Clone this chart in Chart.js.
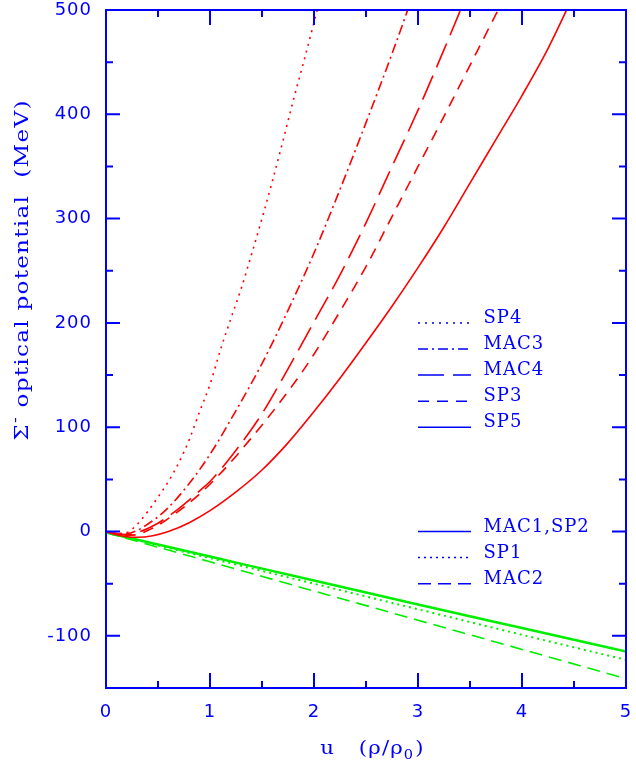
<!DOCTYPE html>
<html>
<head>
<meta charset="utf-8">
<script src="https://cdn.jsdelivr.net/npm/chart.js@4/dist/chart.umd.min.js"></script>
<style>
  html, body { margin: 0; padding: 0; background: #fff; }
</style>
</head>
<body>
<canvas id="chart" width="636" height="762"></canvas>
<script>
// Sigma- optical potential (MeV) vs u = rho/rho0
const sp4U = [0, 0.1, 0.2, 0.3, 0.4, 0.5, 0.6, 0.7, 0.8, 0.9, 1.0, 1.1, 1.2, 1.3, 1.4, 1.5, 1.6, 1.7, 1.8, 1.9, 2.0, 2.1];
const sp4V = [0, -2, -1, 7, 19, 33, 48, 66, 88, 115, 141, 174, 204, 233, 266, 300, 336, 374, 413, 450, 488, 526];

const mac3U = [0, 0.1, 0.2, 0.3, 0.4, 0.5, 0.6, 0.8, 1.0, 1.25, 1.5, 1.75, 2.0, 2.25, 2.5, 2.75, 3.0];
const mac3V = [0, -2, -2, 1, 7, 14, 23, 46, 74, 116, 161, 212, 267, 328, 392, 458, 528];

const mac4U = [0, 0.1, 0.2, 0.3, 0.4, 0.5, 0.7, 0.9, 1.0, 1.25, 1.5, 1.75, 2.0, 2.25, 2.5, 2.75, 3.0, 3.25, 3.5];
const mac4V = [0, -2, -3, -1, 3, 8, 22, 39, 48, 78, 113, 156, 201, 246, 296, 350, 404, 462, 522];

const sp3U = [0, 0.1, 0.2, 0.3, 0.4, 0.5, 0.65, 0.9, 1.15, 1.4, 1.65, 1.9, 2.0, 2.25, 2.5, 2.75, 3.0, 3.25, 3.5, 3.75, 4.0];
const sp3V = [0, -2, -3.5, -3, 1, 6, 16, 36, 61, 90, 121, 155, 170, 211, 254, 302, 350, 398, 447, 496, 545];

const sp5U = [0, 0.1, 0.2, 0.3, 0.45, 0.6, 0.8, 1.0, 1.25, 1.5, 1.75, 2.0, 2.25, 2.5, 2.75, 3.0, 3.25, 3.5, 3.75, 4.0, 4.25, 4.5];
const sp5V = [0, -3, -5, -5.5, -4, 0, 8.5, 20, 38, 59, 85, 115, 147, 181, 216, 253, 292, 334, 376, 418, 463, 515];

const greenU = [0, 1, 2, 3, 4, 5];
const mac1V = [-1, -24, -47, -70, -92.5, -115];
const sp1V = [-1, -25.5, -50, -74.5, -99, -123];
const mac2V = [-1, -29, -57, -85, -113, -141];

const xMajor = [0, 1, 2, 3, 4, 5];
const xMinor = [0.5, 1.5, 2.5, 3.5, 4.5];
const yMajor = [-100, 0, 100, 200, 300, 400, 500];
const yMinor = [-50, 50, 150, 250, 350, 450];

// legend rows sit at data positions, like the original
const redLegend = ['SP4', 'MAC3', 'MAC4', 'SP3', 'SP5'];
const redLegendY = [200, 175, 150, 125, 100];
const greenLegend = ['MAC1,SP2', 'SP1', 'MAC2'];
const greenLegendY = [0, -25, -50];

const BLUE = '#0000ff';
const RED = '#ff0000';
const GREEN = '#00ee00';

const DOT = [2, 5];
const DASHDOT = [10, 4, 2, 4];
const LONGDASH = [26, 9];
const DASH = [11, 8];
const GDASH = [13, 7];
const GDOT = [2, 4];

const pts = (us, vs) => us.map((u, i) => ({ x: u, y: vs[i] }));

const line = (label, us, vs, color, dash, width) => ({
  label,
  data: pts(us, vs),
  borderColor: color,
  borderWidth: width,
  borderDash: dash,
  pointRadius: 0,
  fill: false,
  cubicInterpolationMode: 'monotone',
});

// draws stretched text, PGPLOT fonts are wider than DejaVu
function wideText(ctx, text, x, y, sx) {
  ctx.save();
  ctx.translate(x, y);
  ctx.scale(sx, 1);
  ctx.fillText(text, 0, 0);
  ctx.restore();
  return ctx.measureText(text).width * sx;
}

const frameTicks = {
  id: 'frameTicks',
  beforeDraw(chart) {
    chart.ctx.letterSpacing = '1px';
  },
  afterDatasetsDraw(chart) {
    const { ctx, chartArea: a, scales: { x, y } } = chart;
    ctx.save();
    ctx.strokeStyle = BLUE;
    ctx.lineWidth = 2;
    ctx.setLineDash([]);
    ctx.strokeRect(a.left, a.top, a.right - a.left, a.bottom - a.top);

    const vTick = (v, len) => {
      const p = x.getPixelForValue(v);
      ctx.beginPath();
      ctx.moveTo(p, a.bottom); ctx.lineTo(p, a.bottom - len);
      ctx.moveTo(p, a.top); ctx.lineTo(p, a.top + len);
      ctx.stroke();
    };
    const hTick = (v, len) => {
      const p = y.getPixelForValue(v);
      ctx.beginPath();
      ctx.moveTo(a.left, p); ctx.lineTo(a.left + len, p);
      ctx.moveTo(a.right, p); ctx.lineTo(a.right - len, p);
      ctx.stroke();
    };
    xMajor.forEach(v => vTick(v, 15));
    xMinor.forEach(v => vTick(v, 7));
    yMajor.forEach(v => hTick(v, 14));
    yMinor.forEach(v => hTick(v, 7));

    // legends
    ctx.fillStyle = BLUE;
    ctx.font = '18px "DejaVu Serif"';
    ctx.letterSpacing = '1px';
    ctx.textBaseline = 'alphabetic';
    ctx.textAlign = 'left';
    ctx.lineWidth = 1.5;
    const x0 = x.getPixelForValue(3.0);
    const x1 = x.getPixelForValue(3.51);
    const xt = x.getPixelForValue(3.63);
    const redDash = [DOT, DASHDOT, LONGDASH, DASH, []];
    redLegend.forEach((name, i) => {
      const py = y.getPixelForValue(redLegendY[i]);
      ctx.setLineDash(redDash[i]);
      ctx.beginPath(); ctx.moveTo(x0, py); ctx.lineTo(x1, py); ctx.stroke();
      ctx.fillText(name, xt, py);
    });
    const greenDash = [[], GDOT, GDASH];
    greenLegend.forEach((name, i) => {
      const py = y.getPixelForValue(greenLegendY[i]);
      ctx.setLineDash(greenDash[i]);
      ctx.beginPath(); ctx.moveTo(x0, py); ctx.lineTo(x1, py); ctx.stroke();
      ctx.fillText(name, xt, py);
    });
    ctx.setLineDash([]);

    // x axis title: u  (rho/rho0)
    const SX = 1.12;
    ctx.font = '19px "DejaVu Serif"';
    const t1 = 'u   (\u03c1/\u03c1';
    const w1 = ctx.measureText(t1).width * SX;
    ctx.font = '13px "DejaVu Serif"';
    const w2 = ctx.measureText('0').width * SX;
    ctx.font = '19px "DejaVu Serif"';
    const w3 = ctx.measureText(')').width * SX;
    const tx = 372 - (w1 + w2 + w3) / 2;
    const ty = 754;
    wideText(ctx, t1, tx, ty, SX);
    ctx.font = '13px "DejaVu Serif"';
    wideText(ctx, '0', tx + w1, ty + 5, SX);
    ctx.font = '19px "DejaVu Serif"';
    wideText(ctx, ')', tx + w1 + w2 + 1, ty, SX);

    // y axis title: Sigma- optical potential (MeV)
    const SY = 1.22;
    ctx.save();
    ctx.translate(28, 270);
    ctx.rotate(-Math.PI / 2);
    const s1 = '\u03a3';
    const s3 = ' optical potential  (MeV)';
    ctx.font = '19px "DejaVu Serif"';
    const a1 = ctx.measureText(s1).width * SY;
    const a3 = ctx.measureText(s3).width * SY;
    ctx.font = '14px "DejaVu Serif"';
    const a2 = ctx.measureText('-').width * SY;
    const sx = -(a1 + a2 + a3) / 2;
    ctx.font = '19px "DejaVu Serif"';
    wideText(ctx, s1, sx, 0, SY);
    ctx.font = '14px "DejaVu Serif"';
    wideText(ctx, '-', sx + a1, -8, SY);
    ctx.font = '19px "DejaVu Serif"';
    wideText(ctx, s3, sx + a1 + a2, 0, SY);
    ctx.restore();

    ctx.restore();
  }
};

new Chart(document.getElementById('chart').getContext('2d'), {
  type: 'line',
  data: {
    datasets: [
      line('SP4', sp4U, sp4V, RED, DOT, 1.6),
      line('MAC3', mac3U, mac3V, RED, DASHDOT, 1.6),
      line('MAC4', mac4U, mac4V, RED, LONGDASH, 1.6),
      line('SP3', sp3U, sp3V, RED, DASH, 1.6),
      line('SP5', sp5U, sp5V, RED, [], 1.6),
      line('MAC1,SP2', greenU, mac1V, GREEN, [], 2.5),
      line('SP1', greenU, sp1V, GREEN, GDOT, 2),
      line('MAC2', greenU, mac2V, GREEN, GDASH, 1.6),
    ],
  },
  options: {
    responsive: false,
    animation: false,
    devicePixelRatio: 1,
    layout: { padding: { top: 10, right: 10, left: 0, bottom: 0 } },
    plugins: {
      legend: { display: false },
      tooltip: { enabled: false },
    },
    scales: {
      x: {
        type: 'linear',
        min: 0,
        max: 5,
        grid: { display: false, drawTicks: false },
        border: { display: false },
        afterBuildTicks: s => { s.ticks = xMajor.map(v => ({ value: v })); },
        afterFit: s => { s.height = 74; s.paddingLeft = 0; s.paddingRight = 0; },
        ticks: {
          color: BLUE,
          padding: 14,
          maxRotation: 0,
          font: { family: '"DejaVu Sans"', size: 18 },
        },
      },
      y: {
        type: 'linear',
        min: -150,
        max: 500,
        grid: { display: false, drawTicks: false },
        border: { display: false },
        afterBuildTicks: s => { s.ticks = yMajor.map(v => ({ value: v })); },
        afterFit: s => { s.width = 106; s.paddingTop = 0; s.paddingBottom = 0; },
        ticks: {
          color: BLUE,
          padding: 14,
          font: { family: '"DejaVu Sans"', size: 18 },
        },
      },
    },
  },
  plugins: [frameTicks],
});
</script>
</body>
</html>
